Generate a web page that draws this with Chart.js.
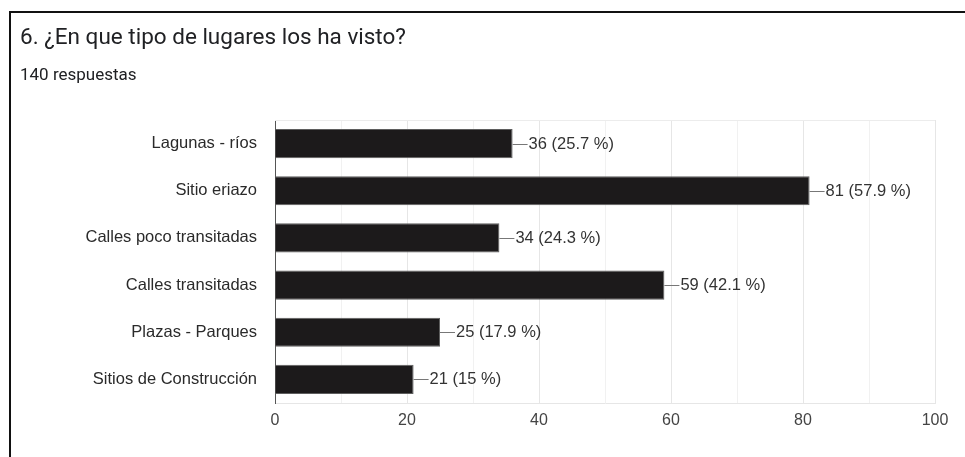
<!DOCTYPE html>
<html>
<head>
<meta charset="utf-8">
<script src="https://cdn.jsdelivr.net/npm/chart.js@4.4.0/dist/chart.umd.min.js"></script>
<style>
  html, body { margin: 0; padding: 0; background: #fff; }
  #wrap { position: relative; width: 965px; height: 457px; overflow: hidden; }
  #frame { position: absolute; left: 9px; top: 11px; right: -5px; bottom: -5px;
           border-left: 2px solid #111; border-top: 2px solid #111; }
  #title { position: absolute; left: 20px; top: 23px; font-family: Roboto, "Liberation Sans", sans-serif;
           font-size: 22.5px; color: #202124; white-space: nowrap; }
  #sub { position: absolute; left: 20px; top: 64px; font-family: Roboto, "Liberation Sans", sans-serif;
         font-size: 17px; color: #202124; }
  canvas { position: absolute; left: 0; top: 0; }
</style>
</head>
<body>
<div id="wrap">
  <div id="frame"></div>
  <canvas id="myChart" width="965" height="457"></canvas>
  <div id="title">6. ¿En que tipo de lugares los ha visto?</div>
  <div id="sub">140 respuestas</div>
</div>
<script>
var lugares = ['Lagunas - ríos', 'Sitio eriazo', 'Calles poco transitadas', 'Calles transitadas', 'Plazas - Parques', 'Sitios de Construcción'];
var respuestas = [36, 81, 34, 59, 25, 21];
var porcentajes = ['25.7', '57.9', '24.3', '42.1', '17.9', '15'];
var ticksX = [0, 20, 40, 60, 80, 100];

var fuente = 'Arial, "Liberation Sans", sans-serif';

// marco superior del area de grafico
const marco = {
  id: 'marco',
  beforeDatasetsDraw(chart) {
    const c = chart.ctx, a = chart.chartArea;
    c.save();
    c.strokeStyle = '#ececec';
    c.lineWidth = 1;
    c.beginPath();
    c.moveTo(a.left, a.top + 0.5);
    c.lineTo(a.right, a.top + 0.5);
    c.stroke();
    c.restore();
  }
};

// etiquetas de valor con linea guia
const etiquetas = {
  id: 'etiquetas',
  afterDatasetsDraw(chart) {
    const c = chart.ctx;
    const meta = chart.getDatasetMeta(0);
    c.save();
    c.font = '16.5px ' + fuente;
    c.textBaseline = 'middle';
    c.textAlign = 'left';
    meta.data.forEach((bar, i) => {
      const x = bar.x, y = Math.round(bar.y) + 0.5;
      c.strokeStyle = '#777';
      c.lineWidth = 1;
      c.beginPath();
      c.moveTo(x, y);
      c.lineTo(x + 15, y);
      c.stroke();
      c.fillStyle = '#333';
      c.fillText(respuestas[i] + ' (' + porcentajes[i] + ' %)', x + 16, y);
    });
    c.restore();
  }
};

const ctx = document.getElementById('myChart');
new Chart(ctx, {
  type: 'bar',
  data: {
    labels: lugares,
    datasets: [{
      data: respuestas,
      backgroundColor: '#1c1a1b',
      borderColor: '#5e5e5e',
      borderWidth: 1,
      borderSkipped: 'start',
      barPercentage: 0.62,
      categoryPercentage: 1
    }]
  },
  options: {
    indexAxis: 'y',
    responsive: false,
    animation: false,
    layout: { padding: { top: 120, right: 30, left: 0, bottom: 0 } },
    plugins: { legend: { display: false }, tooltip: { enabled: false } },
    scales: {
      x: {
        min: 0,
        max: 100,
        afterFit: function(s) { s.height = 54; },
        afterBuildTicks: function(s) {
          var t = [];
          for (var v = 0; v <= 100; v += 10) t.push({ value: v });
          s.ticks = t;
        },
        ticks: {
          padding: 8,
          color: '#444',
          font: { family: fuente, size: 16 },
          maxRotation: 0,
          autoSkip: false,
          callback: function(v) { return ticksX.indexOf(v) >= 0 ? v : ''; }
        },
        grid: {
          drawTicks: false,
          color: function(c) { return c.tick && c.tick.value % 20 === 0 ? '#e6e6e6' : '#f1f1f1'; }
        },
        border: { color: '#e6e6e6' }
      },
      y: {
        afterFit: function(s) { s.width = 275; },
        ticks: {
          padding: 18,
          color: '#2a2a2a',
          font: { family: fuente, size: 16.5 }
        },
        grid: { display: false, drawTicks: false },
        border: { color: '#555', width: 1 }
      }
    }
  },
  plugins: [marco, etiquetas]
});
</script>
</body>
</html>
